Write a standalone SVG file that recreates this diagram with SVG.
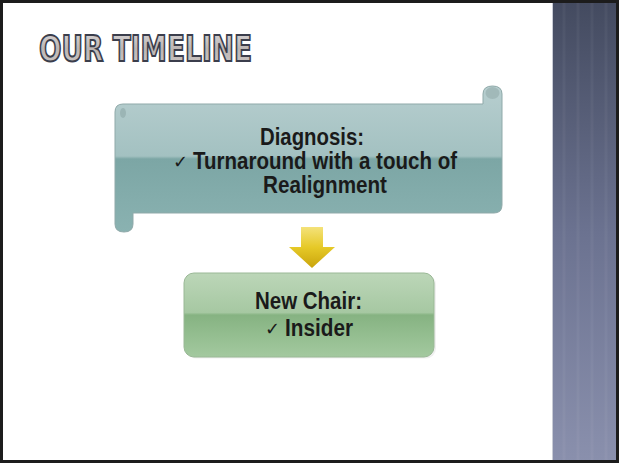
<svg xmlns="http://www.w3.org/2000/svg" width="619" height="463" viewBox="0 0 619 463">
  <defs>
    <linearGradient id="stripe" x1="0" y1="0" x2="0" y2="1">
      <stop offset="0" stop-color="#434a5f"/>
      <stop offset="0.5" stop-color="#6b7290"/>
      <stop offset="1" stop-color="#8a90ad"/>
    </linearGradient>
    <linearGradient id="scrollFill" x1="0" y1="0" x2="0" y2="1">
      <stop offset="0" stop-color="#b7cecf"/>
      <stop offset="0.48" stop-color="#a3c1c1"/>
      <stop offset="0.5" stop-color="#7ca6a5"/>
      <stop offset="1" stop-color="#8ab2b1"/>
    </linearGradient>
    <linearGradient id="greenFill" x1="0" y1="0" x2="0" y2="1">
      <stop offset="0" stop-color="#bcd6b8"/>
      <stop offset="0.47" stop-color="#a6c8a2"/>
      <stop offset="0.5" stop-color="#86b382"/>
      <stop offset="1" stop-color="#a3c99f"/>
    </linearGradient>
    <linearGradient id="arrowFill" x1="0" y1="0" x2="0" y2="1">
      <stop offset="0" stop-color="#f4e27a"/>
      <stop offset="0.5" stop-color="#e6c927"/>
      <stop offset="1" stop-color="#c9a40c"/>
    </linearGradient>
    <linearGradient id="titleFill" x1="0" y1="0" x2="0" y2="1">
      <stop offset="0" stop-color="#dcdadc"/>
      <stop offset="0.5" stop-color="#bdb6b4"/>
      <stop offset="1" stop-color="#cdc7c5"/>
    </linearGradient>
  </defs>
  <style>
    .label { font-family: "Liberation Sans", Arial, sans-serif; font-weight: bold; font-size: 23px; fill: #1a1a1a; }
    .tick { font-family: "DejaVu Sans", sans-serif; font-weight: normal; font-size: 18px; }
    .title { font-family: "DejaVu Sans", "Liberation Sans", sans-serif; font-weight: bold; font-size: 36px; fill: url(#titleFill); stroke: #3b3e4c; stroke-width: 2px; }
  </style>

  <!-- slide background and frame -->
  <rect x="0" y="0" width="619" height="463" fill="#ffffff"/>
  <rect x="552" y="0" width="67" height="463" fill="url(#stripe)"/>
  <line x1="552.5" y1="0" x2="552.5" y2="463" stroke="#c9ccd6" stroke-width="1"/>
  <g opacity="0.04" stroke="#ffffff" stroke-width="3">
    <line x1="564" y1="0" x2="564" y2="463"/>
    <line x1="578" y1="0" x2="578" y2="463"/>
    <line x1="592" y1="0" x2="592" y2="463"/>
    <line x1="606" y1="0" x2="606" y2="463"/>
  </g>
  <rect x="1.5" y="1.5" width="616" height="460" fill="none" stroke="#1c1c1c" stroke-width="3"/>

  <!-- heading -->
  <text class="title" x="39" y="61" textLength="213" lengthAdjust="spacingAndGlyphs">OUR TIMELINE</text>

  <!-- scroll node -->
  <g id="diagnosis">
    <path d="M115,112 Q115,104 123,104 L483,104 L483,94 Q483,86 492.5,86 Q502,86 502,94 L502,205 Q502,213 494,213 L133,213 L133,224 Q133,232 124,232 Q115,232 115,224 Z" fill="url(#scrollFill)" stroke="#8fa9a9" stroke-width="1"/>
    <ellipse cx="492.5" cy="93" rx="7" ry="6" fill="#98b0b0" opacity="0.7"/>
    <ellipse cx="123" cy="113" rx="3" ry="5" fill="#93acac" opacity="0.7"/>
    <text class="label" x="260" y="145" textLength="104" lengthAdjust="spacingAndGlyphs">Diagnosis:</text>
    <text class="label tick" x="173" y="168">✓</text>
    <text class="label" x="193" y="169" textLength="264" lengthAdjust="spacingAndGlyphs">Turnaround with a touch of</text>
    <text class="label" x="263" y="193" textLength="124" lengthAdjust="spacingAndGlyphs">Realignment</text>
  </g>

  <!-- connectors -->
  <g id="connectors">
    <path d="M301,227 L323,227 L323,247 L335,247 L312,268 L289,247 L301,247 Z" fill="url(#arrowFill)"/>
  </g>

  <!-- chair node -->
  <g id="new-chair">
    <rect x="186" y="274.5" width="250" height="84" rx="10" fill="#000000" opacity="0.06"/>
    <rect x="184" y="273" width="250" height="84" rx="10" fill="url(#greenFill)" stroke="#9ab896" stroke-width="1"/>
    <text class="label" x="255" y="309" textLength="107" lengthAdjust="spacingAndGlyphs">New Chair:</text>
    <text class="label tick" x="265" y="335">✓</text>
    <text class="label" x="285" y="336" textLength="68" lengthAdjust="spacingAndGlyphs">Insider</text>
  </g>
</svg>
